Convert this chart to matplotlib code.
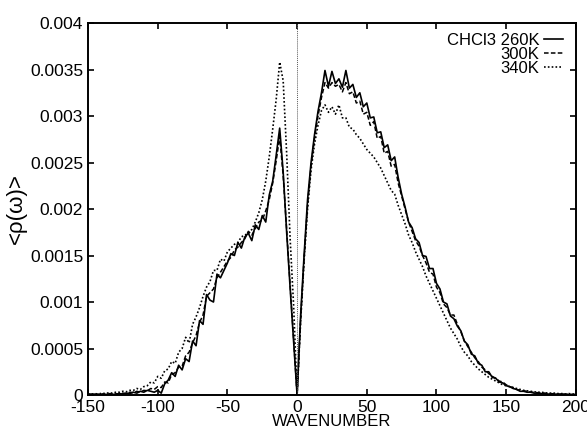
import numpy as np
import matplotlib
matplotlib.use("Agg")
import matplotlib.pyplot as plt

plt.rcParams["font.family"] = ["Liberation Sans", "DejaVu Sans"]

# wavenumber grid, -150 .. 200 in steps of 2.5
wavenumber = np.linspace(-150, 200, 141)

# <rho(omega)>, in units of 1e-4
rho_260 = [
    0.1, 0.05, 0.1, 0.0, 0.1, 0.05, 0.1, 0.05, 0.1, 0.15,
    0.1, 0.2, 0.15, 0.3, 0.2, 0.4, 0.3, 0.5, 0.4, 0.3,
    0.5, 0.2, 1.2, 1.6, 2.4, 2.0, 3.2, 2.7, 3.9, 3.6,
    5.8, 5.3, 8.0, 7.6, 10.8, 10.2, 10.0, 13.0, 12.6, 13.4,
    14.2, 15.2, 15.0, 16.4, 15.8, 17.0, 17.4, 16.6, 18.3, 17.8,
    19.3, 18.6, 21.5, 23.0, 25.8, 28.7, 24.0, 17.5, 11.5, 5.7,
    0.0, 8.5, 15.0, 21.0, 25.0, 28.0, 30.5, 32.5, 34.9, 33.2,
    34.8, 33.5, 34.0, 33.1, 34.9, 33.0, 33.4, 32.0, 32.5, 31.0,
    31.4, 29.8, 29.9, 28.2, 28.3, 26.6, 26.9, 25.2, 25.6, 23.4,
    21.6, 20.2, 18.6, 18.0, 16.8, 16.4, 15.0, 14.9, 13.6, 13.6,
    12.0, 11.4, 10.0, 9.8, 8.5, 8.2, 7.4, 6.9, 5.8, 5.4,
    4.4, 4.2, 3.4, 3.2, 2.5, 2.5, 1.9, 1.8, 1.4, 1.3,
    1.0, 0.9, 0.7, 0.6, 0.4, 0.4, 0.3, 0.3, 0.2, 0.2,
    0.15, 0.15, 0.1, 0.1, 0.1, 0.05, 0.1, 0.05, 0.05, 0.05,
    0.05,
]
rho_300 = [
    0.05, 0.1, 0.05, 0.1, 0.1, 0.05, 0.15, 0.1, 0.15, 0.1,
    0.2, 0.15, 0.3, 0.25, 0.4, 0.3, 0.5, 0.45, 0.7, 0.6,
    0.9, 0.8, 1.4, 1.3, 2.2, 2.4, 3.0, 3.1, 4.2, 4.6,
    5.6, 6.4, 7.8, 8.6, 10.6, 11.0, 11.4, 12.6, 13.2, 13.8,
    14.4, 14.8, 15.6, 15.9, 16.4, 16.8, 17.6, 17.2, 17.9, 18.6,
    18.8, 19.8, 21.0, 22.8, 25.2, 27.8, 23.6, 17.8, 11.8, 6.0,
    0.0, 8.0, 14.6, 20.4, 24.6, 27.6, 30.0, 32.0, 33.6, 33.0,
    33.6, 33.2, 33.4, 32.6, 33.6, 32.4, 32.6, 31.4, 31.6, 30.2,
    30.4, 29.0, 29.4, 27.6, 27.8, 26.0, 26.2, 24.6, 24.8, 22.8,
    21.4, 20.0, 18.6, 17.6, 16.6, 16.0, 15.0, 14.2, 13.2, 13.0,
    11.6, 11.0, 9.8, 9.4, 8.6, 8.6, 7.6, 6.8, 5.8, 5.2,
    4.6, 4.0, 3.6, 3.0, 2.7, 2.3, 2.0, 1.8, 1.5, 1.4,
    1.1, 0.9, 0.8, 0.6, 0.5, 0.45, 0.4, 0.3, 0.3, 0.25,
    0.2, 0.2, 0.15, 0.15, 0.1, 0.1, 0.1, 0.1, 0.05, 0.05,
    0.05,
]
rho_340 = [
    0.1, 0.1, 0.15, 0.1, 0.2, 0.15, 0.25, 0.2, 0.3, 0.3,
    0.4, 0.35, 0.5, 0.5, 0.7, 0.6, 0.9, 1.0, 1.4, 1.3,
    2.0, 1.8, 2.6, 2.8, 3.6, 3.4, 4.6, 5.0, 6.2, 5.6,
    7.6, 8.4, 9.4, 10.6, 11.6, 12.2, 13.4, 13.4, 14.6, 14.4,
    15.4, 15.8, 16.2, 16.4, 17.0, 17.2, 17.4, 17.8, 18.6, 19.6,
    21.0, 23.0, 25.6, 28.6, 31.8, 35.8, 33.8, 26.0, 16.8, 9.6,
    0.0, 7.8, 14.4, 20.0, 24.2, 27.0, 29.0, 30.6, 31.2, 30.4,
    31.0, 30.2, 31.2, 29.8, 29.8, 28.8, 28.6, 28.0, 27.6, 27.0,
    26.4, 26.0, 25.6, 25.0, 24.4, 23.6, 22.8, 22.0, 21.6, 20.4,
    19.4, 18.4, 17.2, 16.4, 15.4, 14.6, 13.8, 12.8, 12.0, 11.2,
    10.4, 9.6, 8.8, 8.0, 7.2, 6.6, 6.0, 5.2, 4.6, 4.2,
    3.6, 3.2, 2.8, 2.5, 2.2, 1.9, 1.7, 1.5, 1.3, 1.1,
    1.0, 0.9, 0.8, 0.7, 0.6, 0.5, 0.45, 0.4, 0.35, 0.3,
    0.3, 0.25, 0.2, 0.2, 0.2, 0.15, 0.15, 0.1, 0.15, 0.1,
    0.1,
]

labels = ["CHCl3 260K", "300K", "340K"]
x_ticks = [-150, -100, -50, 0, 50, 100, 150, 200]
y_ticks = [0, 0.0005, 0.001, 0.0015, 0.002, 0.0025, 0.003, 0.0035, 0.004]
y_ticklabels = ["0", "0.0005", "0.001", "0.0015", "0.002", "0.0025", "0.003", "0.0035", "0.004"]

fig = plt.figure(figsize=(5.87, 4.30), dpi=100)
ax = fig.add_axes([0.150, 0.0814, 0.831, 0.865])

scale = 1e-4
ax.plot(wavenumber, np.array(rho_260) * scale, color="black", lw=1.2, ls="-", label=labels[0])
ax.plot(wavenumber, np.array(rho_300) * scale, color="black", lw=1.1, ls=(0, (3, 1.5)), label=labels[1])
ax.plot(wavenumber, np.array(rho_340) * scale, color="black", lw=1.2, ls=(0, (1, 1.3)), label=labels[2])

# zero line
ax.axvline(0, color="0.35", lw=0.7, ls=(0, (1, 1)))

ax.set_xlim(-150, 200)
ax.set_ylim(0, 0.004)
ax.set_xticks(x_ticks)
ax.set_xticklabels([str(t) for t in x_ticks])
ax.set_yticks(y_ticks)
ax.set_yticklabels(y_ticklabels)
ax.tick_params(direction="in", length=4, width=1.2, top=True, right=True,
               labelsize=12.5, pad=3.5)
for s in ax.spines.values():
    s.set_linewidth(1.4)

ax.set_xlabel("WAVENUMBER", fontsize=12, labelpad=-0.5)
ax.set_ylabel("<ρ(ω)>", fontsize=16, labelpad=2)

ax.legend(loc="upper right", bbox_to_anchor=(0.973, 0.974), frameon=False,
          markerfirst=False, fontsize=12, handlelength=1.1, handletextpad=0.3,
          labelspacing=-0.06, borderpad=0, borderaxespad=0)

fig.savefig("out.png", dpi=100)
